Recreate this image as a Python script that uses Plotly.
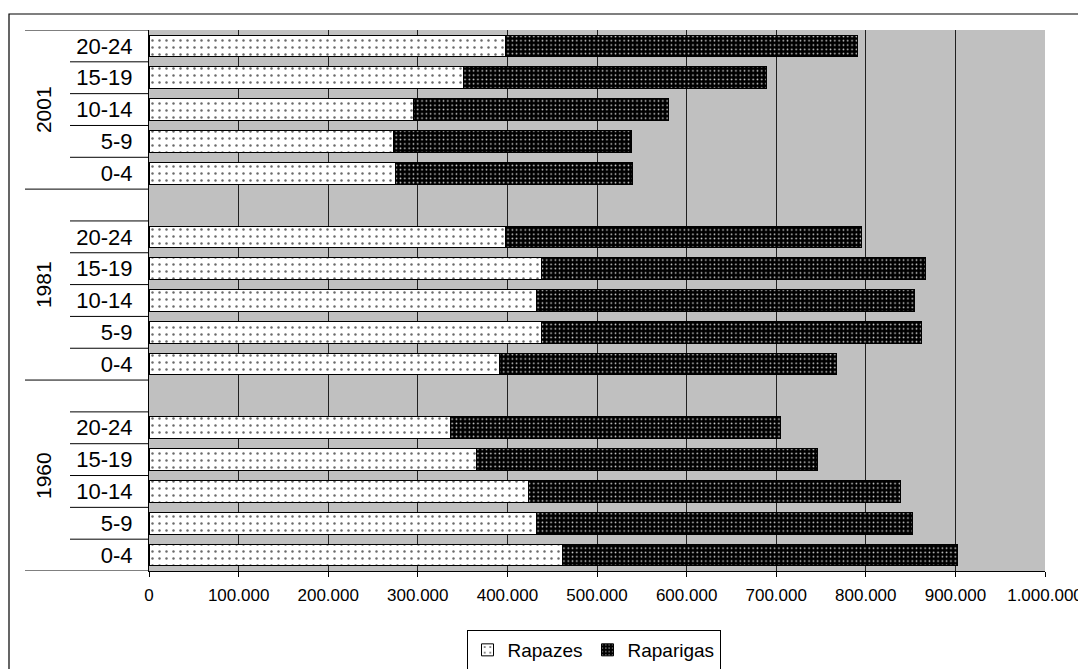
import plotly.graph_objects as go

# ---- data ----
ages = ["0-4", "5-9", "10-14", "15-19", "20-24"]
years = ["1960", "1981", "2001"]
rapazes_1960 = [461000, 433000, 423000, 365000, 336000]
raparigas_1960 = [441000, 419000, 416000, 381000, 369000]
rapazes_1981 = [391000, 438000, 433000, 438000, 398000]
raparigas_1981 = [376000, 424000, 421000, 429000, 397000]
rapazes_2001 = [275000, 273000, 295000, 351000, 398000]
raparigas_2001 = [265000, 265000, 285000, 338000, 393000]
x_ticks = [0, 100000, 200000, 300000, 400000, 500000, 600000, 700000, 800000, 900000, 1000000]

rapazes = rapazes_1960 + rapazes_1981 + rapazes_2001
raparigas = raparigas_1960 + raparigas_1981 + raparigas_2001

# category slots: each year group takes 6 slots (5 ages + blank)
pos = []
labels = []
for g in range(len(years)):
    for i, a in enumerate(ages):
        pos.append(g * 6 + i)
        labels.append(a)

FONT = "Liberation Sans, Arial, sans-serif"

fig = go.Figure()
fig.add_trace(go.Bar(
    y=pos, x=rapazes, orientation="h", name="Rapazes", width=0.68,
    marker=dict(color="white", line=dict(color="black", width=1),
                pattern=dict(shape=".", fgcolor="#6a6a6a", bgcolor="white",
                             size=7, solidity=0.1, fillmode="replace")),
))
fig.add_trace(go.Bar(
    y=pos, x=raparigas, orientation="h", name="Raparigas", width=0.68,
    marker=dict(color="black", line=dict(color="black", width=1),
                pattern=dict(shape=".", fgcolor="#d8d8d8", bgcolor="black",
                             size=4.3, solidity=0.12, fillmode="replace")),
))

# page body has an 8px offset; figure sized so screen = figure + 8
OFF = 8
FW, FH = 1086 - OFF, 669 - OFF
L, R, T, B = 149 - OFF, 41, 30 - OFF, 98
W = FW - L - R
H = FH - T - B
def px_x(p):
    return (p - OFF - L) / W
def px_y(p):
    return (FH - B - (p - OFF)) / H

shapes = []
# outer chart border (cropped by the image edges)
shapes.append(dict(type="rect", xref="paper", yref="paper",
                   x0=px_x(9), x1=px_x(1100), y0=px_y(690), y1=px_y(14),
                   line=dict(color="black", width=1.2), fillcolor="rgba(0,0,0,0)", layer="below"))
# category dividers
n_slots = 17
for k in range(n_slots + 1):
    yb = k - 0.5
    long_line = (k % 6 == 0) or k == n_slots
    x0 = px_x(25) if long_line else px_x(70)
    shapes.append(dict(type="line", xref="paper", yref="y", x0=x0, x1=0,
                       y0=yb, y1=yb, line=dict(color="black", width=1)))

annotations = []
centers = [2.5, 8.5, 14]
for yr, c in zip(years, centers):
    annotations.append(dict(text=yr, xref="paper", yref="y", x=px_x(43.5), y=c,
                            xanchor="center", yanchor="middle",
                            showarrow=False, textangle=-90,
                            font=dict(size=21, color="black", family=FONT)))

fig.update_layout(
    barmode="stack",
    width=FW, height=FH,
    margin=dict(l=L, r=R, t=T, b=B, autoexpand=False),
    paper_bgcolor="white",
    plot_bgcolor="#c0c0c0",
    separators=",.",
    font=dict(family=FONT, color="black"),
    shapes=shapes,
    annotations=annotations,
    legend=dict(orientation="h", xref="paper", x=px_x(593.5), xanchor="center",
                yref="container", y=1 - (630 - OFF) / FH, yanchor="top",
                bordercolor="black", borderwidth=1, bgcolor="white",
                font=dict(size=19, family=FONT, color="black"),
                itemwidth=30, traceorder="normal"),
)
fig.update_xaxes(range=[0, 1000000], tickvals=x_ticks, tickformat=",d",
                 showgrid=True, gridcolor="#202020", gridwidth=1,
                 showline=True, linecolor="black", linewidth=1,
                 ticks="outside", ticklen=5, tickcolor="black",
                 tickfont=dict(size=17, family=FONT, color="black"),
                 ticklabelstandoff=4, zeroline=False, fixedrange=True, automargin=False)
fig.update_yaxes(range=[-0.5, 16.5], tickvals=pos, ticktext=labels,
                 showgrid=False, zeroline=False,
                 showline=True, linecolor="black", linewidth=1,
                 ticks="", ticklabelstandoff=11,
                 tickfont=dict(size=22, family=FONT, color="black"),
                 fixedrange=True, automargin=False)

fig.write_html("out.html")
